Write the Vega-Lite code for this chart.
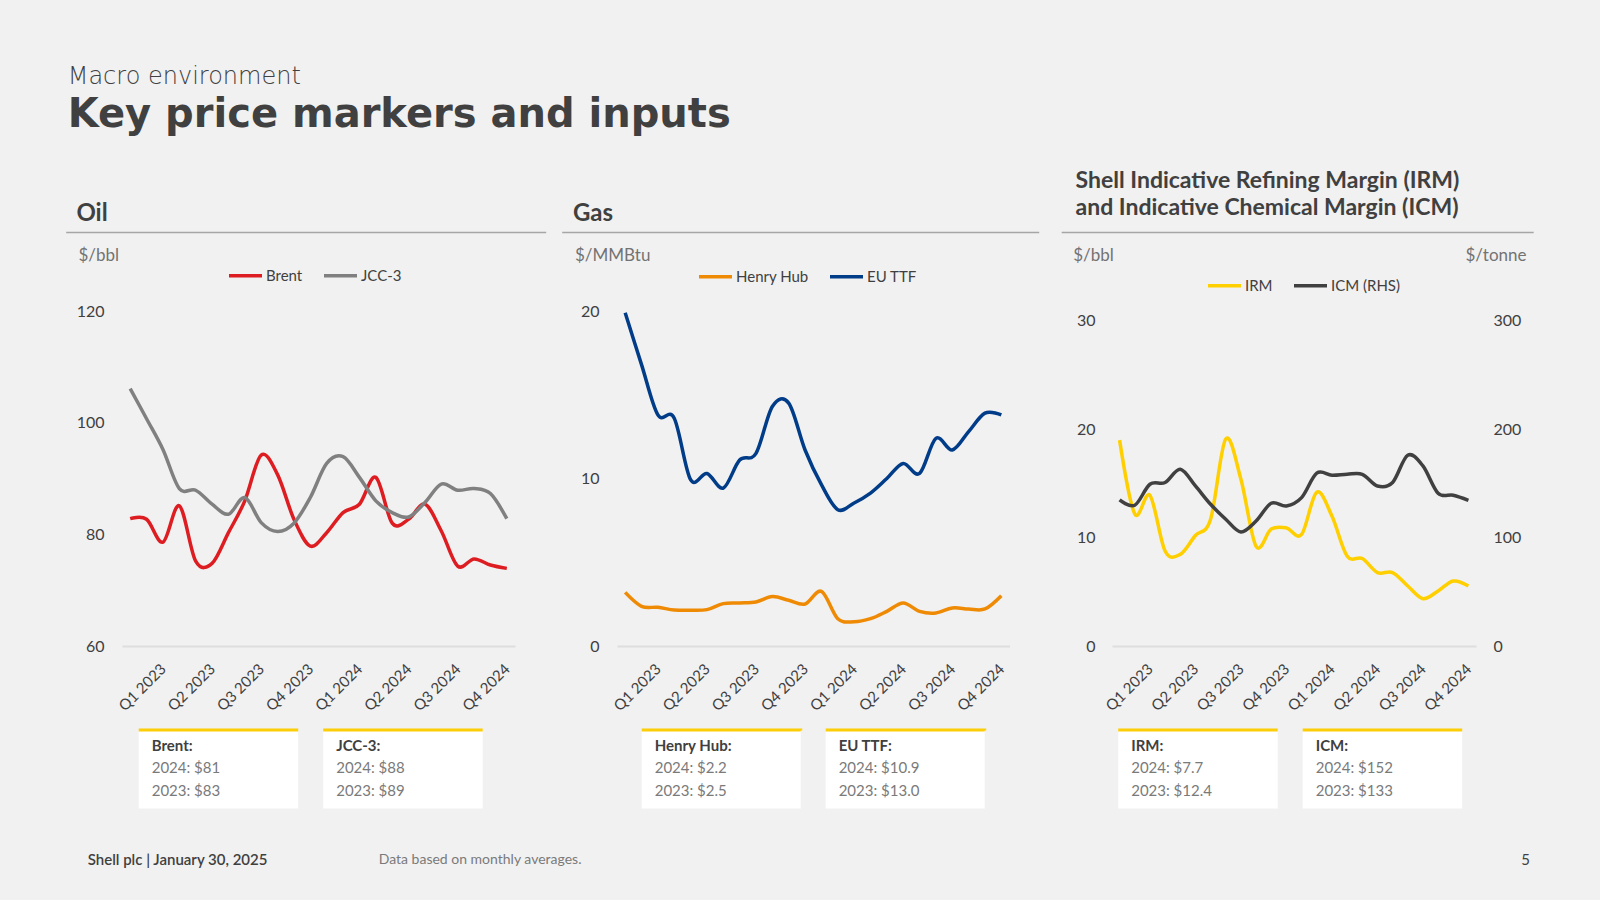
{
  "$schema": "https://vega.github.io/schema/vega-lite/v6.json",
  "background": "#f1f1f1",
  "padding": {"left": 67, "top": 64, "right": 58, "bottom": 39},
  "title": {
    "text": "Macro environment",
    "subtitle": "Key price markers and inputs",
    "anchor": "start", "dx": -8,
    "font": "DejaVu Sans", "fontSize": 24, "fontWeight": 200, "color": "#404040",
    "subtitleFont": "DejaVu Sans", "subtitleFontSize": 40, "subtitleFontWeight": "bold", "subtitleColor": "#404040",
    "subtitlePadding": 6, "offset": 35
  },
  "datasets": {
    "oil": [
      {"month":"2023-01","series":"Brent","value":82.8},{"month":"2023-02","series":"Brent","value":82.7},{"month":"2023-03","series":"Brent","value":78.6},{"month":"2023-04","series":"Brent","value":85.1},{"month":"2023-05","series":"Brent","value":75.2},{"month":"2023-06","series":"Brent","value":74.8},{"month":"2023-07","series":"Brent","value":80.3},{"month":"2023-08","series":"Brent","value":86.0},{"month":"2023-09","series":"Brent","value":94.2},{"month":"2023-10","series":"Brent","value":90.7},{"month":"2023-11","series":"Brent","value":82.7},{"month":"2023-12","series":"Brent","value":77.9},
      {"month":"2024-01","series":"Brent","value":80.3},{"month":"2024-02","series":"Brent","value":83.9},{"month":"2024-03","series":"Brent","value":85.4},{"month":"2024-04","series":"Brent","value":90.2},{"month":"2024-05","series":"Brent","value":82.0},{"month":"2024-06","series":"Brent","value":82.7},{"month":"2024-07","series":"Brent","value":85.4},{"month":"2024-08","series":"Brent","value":80.6},{"month":"2024-09","series":"Brent","value":74.3},{"month":"2024-10","series":"Brent","value":75.6},{"month":"2024-11","series":"Brent","value":74.5},{"month":"2024-12","series":"Brent","value":73.9},
      {"month":"2023-01","series":"JCC-3","value":106.1},{"month":"2023-02","series":"JCC-3","value":100.7},{"month":"2023-03","series":"JCC-3","value":95.2},{"month":"2023-04","series":"JCC-3","value":88.2},{"month":"2023-05","series":"JCC-3","value":87.9},{"month":"2023-06","series":"JCC-3","value":85.4},{"month":"2023-07","series":"JCC-3","value":83.6},{"month":"2023-08","series":"JCC-3","value":86.6},{"month":"2023-09","series":"JCC-3","value":82.1},{"month":"2023-10","series":"JCC-3","value":80.5},{"month":"2023-11","series":"JCC-3","value":82.0},{"month":"2023-12","series":"JCC-3","value":86.6},
      {"month":"2024-01","series":"JCC-3","value":92.7},{"month":"2024-02","series":"JCC-3","value":93.9},{"month":"2024-03","series":"JCC-3","value":90.2},{"month":"2024-04","series":"JCC-3","value":86.0},{"month":"2024-05","series":"JCC-3","value":83.9},{"month":"2024-06","series":"JCC-3","value":83.1},{"month":"2024-07","series":"JCC-3","value":85.7},{"month":"2024-08","series":"JCC-3","value":89.0},{"month":"2024-09","series":"JCC-3","value":87.9},{"month":"2024-10","series":"JCC-3","value":88.2},{"month":"2024-11","series":"JCC-3","value":87.3},{"month":"2024-12","series":"JCC-3","value":82.8}
    ],
    "gas": [
      {"month":"2023-01","series":"Henry Hub","value":3.20},{"month":"2023-02","series":"Henry Hub","value":2.37},{"month":"2023-03","series":"Henry Hub","value":2.31},{"month":"2023-04","series":"Henry Hub","value":2.15},{"month":"2023-05","series":"Henry Hub","value":2.13},{"month":"2023-06","series":"Henry Hub","value":2.17},{"month":"2023-07","series":"Henry Hub","value":2.53},{"month":"2023-08","series":"Henry Hub","value":2.57},{"month":"2023-09","series":"Henry Hub","value":2.63},{"month":"2023-10","series":"Henry Hub","value":2.95},{"month":"2023-11","series":"Henry Hub","value":2.73},{"month":"2023-12","series":"Henry Hub","value":2.51},
      {"month":"2024-01","series":"Henry Hub","value":3.26},{"month":"2024-02","series":"Henry Hub","value":1.63},{"month":"2024-03","series":"Henry Hub","value":1.45},{"month":"2024-04","series":"Henry Hub","value":1.63},{"month":"2024-05","series":"Henry Hub","value":2.07},{"month":"2024-06","series":"Henry Hub","value":2.57},{"month":"2024-07","series":"Henry Hub","value":2.07},{"month":"2024-08","series":"Henry Hub","value":1.97},{"month":"2024-09","series":"Henry Hub","value":2.27},{"month":"2024-10","series":"Henry Hub","value":2.21},{"month":"2024-11","series":"Henry Hub","value":2.21},{"month":"2024-12","series":"Henry Hub","value":3.00},
      {"month":"2023-01","series":"EU TTF","value":19.9},{"month":"2023-02","series":"EU TTF","value":16.8},{"month":"2023-03","series":"EU TTF","value":13.8},{"month":"2023-04","series":"EU TTF","value":13.6},{"month":"2023-05","series":"EU TTF","value":9.93},{"month":"2023-06","series":"EU TTF","value":10.3},{"month":"2023-07","series":"EU TTF","value":9.43},{"month":"2023-08","series":"EU TTF","value":11.1},{"month":"2023-09","series":"EU TTF","value":11.5},{"month":"2023-10","series":"EU TTF","value":14.3},{"month":"2023-11","series":"EU TTF","value":14.5},{"month":"2023-12","series":"EU TTF","value":11.7},
      {"month":"2024-01","series":"EU TTF","value":9.63},{"month":"2024-02","series":"EU TTF","value":8.14},{"month":"2024-03","series":"EU TTF","value":8.54},{"month":"2024-04","series":"EU TTF","value":9.13},{"month":"2024-05","series":"EU TTF","value":10.0},{"month":"2024-06","series":"EU TTF","value":10.9},{"month":"2024-07","series":"EU TTF","value":10.3},{"month":"2024-08","series":"EU TTF","value":12.4},{"month":"2024-09","series":"EU TTF","value":11.7},{"month":"2024-10","series":"EU TTF","value":12.8},{"month":"2024-11","series":"EU TTF","value":13.9},{"month":"2024-12","series":"EU TTF","value":13.8}
    ],
    "margins": [
      {"month":"2023-01","series":"IRM","value":19.0},{"month":"2023-02","series":"IRM","value":12.2},{"month":"2023-03","series":"IRM","value":13.9},{"month":"2023-04","series":"IRM","value":8.77},{"month":"2023-05","series":"IRM","value":8.46},{"month":"2023-06","series":"IRM","value":10.2},{"month":"2023-07","series":"IRM","value":11.7},{"month":"2023-08","series":"IRM","value":19.1},{"month":"2023-09","series":"IRM","value":15.4},{"month":"2023-10","series":"IRM","value":9.2},{"month":"2023-11","series":"IRM","value":10.8},{"month":"2023-12","series":"IRM","value":10.9},
      {"month":"2024-01","series":"IRM","value":10.3},{"month":"2024-02","series":"IRM","value":14.2},{"month":"2024-03","series":"IRM","value":12.0},{"month":"2024-04","series":"IRM","value":8.31},{"month":"2024-05","series":"IRM","value":8.07},{"month":"2024-06","series":"IRM","value":6.78},{"month":"2024-07","series":"IRM","value":6.78},{"month":"2024-08","series":"IRM","value":5.54},{"month":"2024-09","series":"IRM","value":4.37},{"month":"2024-10","series":"IRM","value":5.08},{"month":"2024-11","series":"IRM","value":6.0},{"month":"2024-12","series":"IRM","value":5.54},
      {"month":"2023-01","series":"ICM (RHS)","value":134.8},{"month":"2023-02","series":"ICM (RHS)","value":129.9},{"month":"2023-03","series":"ICM (RHS)","value":149.3},{"month":"2023-04","series":"ICM (RHS)","value":150.9},{"month":"2023-05","series":"ICM (RHS)","value":163.2},{"month":"2023-06","series":"ICM (RHS)","value":147.7},{"month":"2023-07","series":"ICM (RHS)","value":130.8},{"month":"2023-08","series":"ICM (RHS)","value":117.0},{"month":"2023-09","series":"ICM (RHS)","value":105.3},{"month":"2023-10","series":"ICM (RHS)","value":115.4},{"month":"2023-11","series":"ICM (RHS)","value":131.8},{"month":"2023-12","series":"ICM (RHS)","value":129.3},
      {"month":"2024-01","series":"ICM (RHS)","value":137.0},{"month":"2024-02","series":"ICM (RHS)","value":159.5},{"month":"2024-03","series":"ICM (RHS)","value":157.6},{"month":"2024-04","series":"ICM (RHS)","value":158.5},{"month":"2024-05","series":"ICM (RHS)","value":158.5},{"month":"2024-06","series":"ICM (RHS)","value":147.7},{"month":"2024-07","series":"ICM (RHS)","value":150.9},{"month":"2024-08","series":"ICM (RHS)","value":176.1},{"month":"2024-09","series":"ICM (RHS)","value":166.2},{"month":"2024-10","series":"ICM (RHS)","value":141.0},{"month":"2024-11","series":"ICM (RHS)","value":139.2},{"month":"2024-12","series":"ICM (RHS)","value":134.5}
    ],
    "oilBoxes": [
      {"series":"Brent","head":"Brent:","y2024":"2024: $81","y2023":"2023: $83"},
      {"series":"JCC-3","head":"JCC-3:","y2024":"2024: $88","y2023":"2023: $89"}
    ],
    "gasBoxes": [
      {"series":"Henry Hub","head":"Henry Hub:","y2024":"2024: $2.2","y2023":"2023: $2.5"},
      {"series":"EU TTF","head":"EU TTF:","y2024":"2024: $10.9","y2023":"2023: $13.0"}
    ],
    "marginBoxes": [
      {"series":"IRM","head":"IRM:","y2024":"2024: $7.7","y2023":"2023: $12.4"},
      {"series":"ICM","head":"ICM:","y2024":"2024: $152","y2023":"2023: $133"}
    ]
  },
  "columns": 3,
  "align": "each",
  "bounds": "flush",
  "spacing": {"column": 102, "row": 84},
  "resolve": {"scale": {"color": "independent"}, "legend": {"color": "independent"}},
  "concat": [
    {
      "width": 393, "height": 335,
      "data": {"name": "oil"},
      "title": {"text": "Oil", "anchor": "start", "fontSize": 24, "fontWeight": "bold", "color": "#404040", "offset": 6, "dx": 0.7},
      "layer": [
        {
          "mark": {"type": "line", "interpolate": "cardinal", "strokeWidth": 3.5},
          "encoding": {
            "x": {"field": "month", "type": "ordinal", "scale": {"type": "point", "padding": 0.5},
              "axis": {"orient": "bottom", "values": ["2023-03","2023-06","2023-09","2023-12","2024-03","2024-06","2024-09","2024-12"],
                "labelExpr": "'Q' + (toNumber(slice(datum.value,5,7))/3) + ' ' + slice(datum.value,0,4)",
                "labelAngle": -45, "labelAlign": "right", "labelBaseline": "middle", "labelPadding": 20, "labelFontSize": 15,
                "labelOverlap": false, "domainColor": "#dedede", "domainWidth": 2, "title": null}},
            "y": {"field": "value", "type": "quantitative", "scale": {"domain": [60, 120], "nice": false, "zero": false},
              "axis": {"values": [60, 80, 100, 120], "domain": false, "labelPadding": 18, "labelFontSize": 16,
                "title": "$/bbl", "titleAngle": 0, "titleAlign": "left", "titleBaseline": "middle", "titleX": -44, "titleY": -56,
                "titleFontSize": 17, "titleFontWeight": "normal", "titleColor": "#737373"}},
            "color": {"field": "series", "type": "nominal", "scale": {"domain": ["Brent", "JCC-3"], "range": ["#dd1d21", "#808080"]},
              "legend": {"orient": "none", "legendX": 105, "legendY": -54, "direction": "horizontal", "title": null}}
          }
        },
        {
          "mark": {"type": "rule", "opacity": 0},
          "encoding": {
            "x": {"field": "month", "type": "ordinal", "scale": {"type": "point", "padding": 0.5, "range": [-56.3, 423.7]},
              "axis": {"orient": "top", "offset": 79, "labels": false, "domainColor": "#a6a6a6", "domainWidth": 1.5, "title": null}}
          }
        }
      ],
      "resolve": {"scale": {"x": "independent"}, "axis": {"x": "independent"}}
    },
    {
      "width": 392.5, "height": 335,
      "data": {"name": "gas"},
      "title": {"text": "Gas", "anchor": "start", "fontSize": 24, "fontWeight": "bold", "color": "#404040", "offset": 6, "dx": 1.3},
      "layer": [
        {
          "mark": {"type": "line", "interpolate": "cardinal", "strokeWidth": 3.5},
          "encoding": {
            "x": {"field": "month", "type": "ordinal", "scale": {"type": "point", "padding": 0.5},
              "axis": {"orient": "bottom", "values": ["2023-03","2023-06","2023-09","2023-12","2024-03","2024-06","2024-09","2024-12"],
                "labelExpr": "'Q' + (toNumber(slice(datum.value,5,7))/3) + ' ' + slice(datum.value,0,4)",
                "labelAngle": -45, "labelAlign": "right", "labelBaseline": "middle", "labelPadding": 20, "labelFontSize": 15,
                "labelOverlap": false, "domainColor": "#dedede", "domainWidth": 2, "title": null}},
            "y": {"field": "value", "type": "quantitative", "scale": {"domain": [0, 20], "nice": false},
              "axis": {"values": [0, 10, 20], "domain": false, "labelPadding": 18, "labelFontSize": 16,
                "title": "$/MMBtu", "titleAngle": 0, "titleAlign": "left", "titleBaseline": "middle", "titleX": -42.5, "titleY": -56,
                "titleFontSize": 17, "titleFontWeight": "normal", "titleColor": "#737373"}},
            "color": {"field": "series", "type": "nominal", "scale": {"domain": ["Henry Hub", "EU TTF"], "range": ["#ef8a05", "#003c88"]},
              "legend": {"orient": "none", "legendX": 80, "legendY": -53, "direction": "horizontal", "title": null}}
          }
        },
        {
          "mark": {"type": "rule", "opacity": 0},
          "encoding": {
            "x": {"field": "month", "type": "ordinal", "scale": {"type": "point", "padding": 0.5, "range": [-55.3, 421.7]},
              "axis": {"orient": "top", "offset": 79, "labels": false, "domainColor": "#a6a6a6", "domainWidth": 1.5, "title": null}}
          }
        }
      ],
      "resolve": {"scale": {"x": "independent"}, "axis": {"x": "independent"}}
    },
    {
      "width": 364, "height": 335,
      "data": {"name": "margins"},
      "title": {"text": ["Shell Indicative Refining Margin (IRM)", "and Indicative Chemical Margin (ICM)"], "anchor": "start", "fontSize": 23, "fontWeight": "bold", "color": "#404040", "offset": 12, "dx": 4.5, "lineHeight": 27.5},
      "layer": [
        {
          "transform": [{"filter": "datum.series == 'IRM'"}],
          "mark": {"type": "line", "interpolate": "cardinal", "strokeWidth": 3.5},
          "encoding": {
            "x": {"field": "month", "type": "ordinal", "scale": {"type": "point", "padding": 0.5},
              "axis": {"orient": "bottom", "values": ["2023-03","2023-06","2023-09","2023-12","2024-03","2024-06","2024-09","2024-12"],
                "labelExpr": "'Q' + (toNumber(slice(datum.value,5,7))/3) + ' ' + slice(datum.value,0,4)",
                "labelAngle": -45, "labelAlign": "right", "labelBaseline": "middle", "labelPadding": 20, "labelFontSize": 15,
                "labelOverlap": false, "domainColor": "#dedede", "domainWidth": 2, "title": null}},
            "y": {"field": "value", "type": "quantitative", "scale": {"domain": [0, 30.92], "nice": false},
              "axis": {"orient": "left", "values": [0, 10, 20, 30], "domain": false, "labelPadding": 17, "labelFontSize": 16,
                "title": "$/bbl", "titleAngle": 0, "titleAlign": "left", "titleBaseline": "middle", "titleX": -39.3, "titleY": -56,
                "titleFontSize": 17, "titleFontWeight": "normal", "titleColor": "#737373"}},
            "color": {"field": "series", "type": "nominal", "scale": {"domain": ["IRM", "ICM (RHS)"], "range": ["#ffcf00", "#404040"]},
              "legend": {"orient": "none", "legendX": 94, "legendY": -44, "direction": "horizontal", "title": null}}
          }
        },
        {
          "transform": [{"filter": "datum.series == 'ICM (RHS)'"}],
          "mark": {"type": "line", "interpolate": "cardinal", "strokeWidth": 3.5},
          "encoding": {
            "x": {"field": "month", "type": "ordinal", "scale": {"type": "point", "padding": 0.5}, "axis": null},
            "y": {"field": "value", "type": "quantitative", "scale": {"domain": [0, 309.2], "nice": false},
              "axis": {"orient": "right", "values": [0, 100, 200, 300], "domain": false, "labelPadding": 17, "labelFontSize": 16,
                "title": "$/tonne", "titleAngle": 0, "titleAlign": "right", "titleBaseline": "middle", "titleX": 50, "titleY": -56,
                "titleFontSize": 17, "titleFontWeight": "normal", "titleColor": "#737373"}},
            "color": {"field": "series", "type": "nominal", "scale": {"domain": ["IRM", "ICM (RHS)"], "range": ["#ffcf00", "#404040"]}}
          }
        },
        {
          "mark": {"type": "rule", "opacity": 0},
          "encoding": {
            "x": {"field": "month", "type": "ordinal", "scale": {"type": "point", "padding": 0.5, "range": [-50.8, 421.2]},
              "axis": {"orient": "top", "offset": 79, "labels": false, "domainColor": "#a6a6a6", "domainWidth": 1.5, "title": null}}
          }
        }
      ],
      "resolve": {"scale": {"x": "independent", "y": "independent"}, "axis": {"x": "independent", "y": "independent"}}
    },
    {
      "width": 393, "height": 78.4,
      "data": {"name": "oilBoxes"},
      "title": {"text": "Shell plc | January 30, 2025", "orient": "bottom", "anchor": "start", "frame": "group", "offset": 43, "dx": -34.3, "fontSize": 15, "fontWeight": 600, "color": "#404040"},
      "encoding": {"x": {"field": "series", "type": "nominal", "scale": {"type": "band", "domain": ["Brent", "JCC-3"], "range": [16.7, 360.7], "paddingInner": 0.1355, "paddingOuter": 0}, "axis": null}},
      "layer": [
        {"mark": {"type": "rect", "fill": "#ffffff", "stroke": "#fbce07", "strokeWidth": 3, "strokeDash": [159.5, 1000]}},
        {"mark": {"type": "text", "align": "left", "baseline": "middle", "dx": 13, "dy": -23, "fontSize": 15, "fontWeight": "bold", "color": "#404040"}, "encoding": {"x": {"field": "series", "type": "nominal", "bandPosition": 0}, "text": {"field": "head"}}},
        {"mark": {"type": "text", "align": "left", "baseline": "middle", "dx": 13, "dy": -1, "fontSize": 15, "color": "#7a7a7a"}, "encoding": {"x": {"field": "series", "type": "nominal", "bandPosition": 0}, "text": {"field": "y2024"}}},
        {"mark": {"type": "text", "align": "left", "baseline": "middle", "dx": 13, "dy": 22, "fontSize": 15, "color": "#7a7a7a"}, "encoding": {"x": {"field": "series", "type": "nominal", "bandPosition": 0}, "text": {"field": "y2023"}}}
      ]
    },
    {
      "width": 392.5, "height": 78.4,
      "data": {"name": "gasBoxes"},
      "title": {"text": "Data based on monthly averages.", "orient": "bottom", "anchor": "start", "frame": "group", "offset": 43, "dx": -238.3, "fontSize": 14, "fontWeight": "normal", "color": "#7a7a7a"},
      "encoding": {"x": {"field": "series", "type": "nominal", "scale": {"type": "band", "domain": ["Henry Hub", "EU TTF"], "range": [24.7, 367.7], "paddingInner": 0.1355, "paddingOuter": 0}, "axis": null}},
      "layer": [
        {"mark": {"type": "rect", "fill": "#ffffff", "stroke": "#fbce07", "strokeWidth": 3, "strokeDash": [159.5, 1000]}},
        {"mark": {"type": "text", "align": "left", "baseline": "middle", "dx": 13, "dy": -23, "fontSize": 15, "fontWeight": "bold", "color": "#404040"}, "encoding": {"x": {"field": "series", "type": "nominal", "bandPosition": 0}, "text": {"field": "head"}}},
        {"mark": {"type": "text", "align": "left", "baseline": "middle", "dx": 13, "dy": -1, "fontSize": 15, "color": "#7a7a7a"}, "encoding": {"x": {"field": "series", "type": "nominal", "bandPosition": 0}, "text": {"field": "y2024"}}},
        {"mark": {"type": "text", "align": "left", "baseline": "middle", "dx": 13, "dy": 22, "fontSize": 15, "color": "#7a7a7a"}, "encoding": {"x": {"field": "series", "type": "nominal", "bandPosition": 0}, "text": {"field": "y2023"}}}
      ]
    },
    {
      "width": 364, "height": 78.4,
      "data": {"name": "marginBoxes"},
      "title": {"text": "5", "orient": "bottom", "anchor": "end", "frame": "group", "offset": 43, "dx": 54, "fontSize": 15, "fontWeight": "normal", "color": "#404040"},
      "encoding": {"x": {"field": "series", "type": "nominal", "scale": {"type": "band", "domain": ["IRM", "ICM"], "range": [6.2, 350.2], "paddingInner": 0.1355, "paddingOuter": 0}, "axis": null}},
      "layer": [
        {"mark": {"type": "rect", "fill": "#ffffff", "stroke": "#fbce07", "strokeWidth": 3, "strokeDash": [159.5, 1000]}},
        {"mark": {"type": "text", "align": "left", "baseline": "middle", "dx": 13, "dy": -23, "fontSize": 15, "fontWeight": "bold", "color": "#404040"}, "encoding": {"x": {"field": "series", "type": "nominal", "bandPosition": 0}, "text": {"field": "head"}}},
        {"mark": {"type": "text", "align": "left", "baseline": "middle", "dx": 13, "dy": -1, "fontSize": 15, "color": "#7a7a7a"}, "encoding": {"x": {"field": "series", "type": "nominal", "bandPosition": 0}, "text": {"field": "y2024"}}},
        {"mark": {"type": "text", "align": "left", "baseline": "middle", "dx": 13, "dy": 22, "fontSize": 15, "color": "#7a7a7a"}, "encoding": {"x": {"field": "series", "type": "nominal", "bandPosition": 0}, "text": {"field": "y2023"}}}
      ]
    }
  ],
  "config": {
    "font": "Lato",
    "view": {"stroke": null},
    "axis": {"grid": false, "ticks": false, "labelColor": "#404040", "labelFont": "Lato", "titleFont": "Lato"},
    "legend": {"symbolType": "stroke", "symbolSize": 1089, "symbolStrokeWidth": 3.5, "labelFontSize": 15, "labelColor": "#404040", "labelFont": "Lato", "columnPadding": 14, "labelOffset": 2, "padding": 0}
  }
}
